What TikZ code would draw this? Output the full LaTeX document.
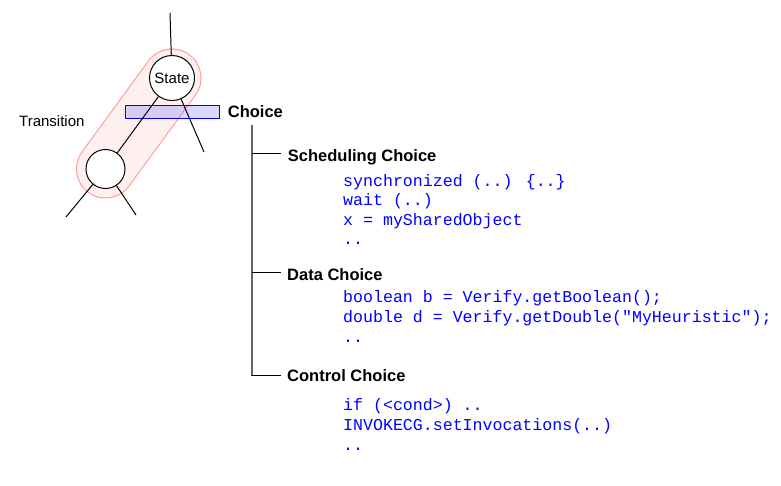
\documentclass[tikz,border=0pt]{standalone}
\usepackage{fontspec}
\setmainfont{Liberation Sans}
\newfontfamily\codefont{Liberation Mono}
\begin{document}
\begin{tikzpicture}[x=1pt,y=-1pt,
  lbl/.style={inner sep=0pt, anchor=base west, font=\fontsize{15}{18}\selectfont},
  head/.style={inner sep=0pt, anchor=base west, font=\fontsize{16.5}{19}\selectfont\bfseries},
  code/.style={inner sep=0pt, anchor=base west, text=blue, font=\fontsize{16.6}{19}\codefont},
  statec/.style={circle, draw=black, fill=white, line width=1pt, inner sep=0pt},
  edge/.style={draw=black, line width=1pt},
  trunk/.style={draw=black!60, line width=2pt},
  branch/.style={draw=black, line width=1pt}]
\useasboundingbox (0,0) rectangle (781,485);
% nodes
\node[statec, minimum size=45pt] (S) at (172,78) {};
\node[statec, minimum size=39pt] (L) at (105.5,169) {};
% pill
\draw[line width=59pt, line cap=round, draw=red!42] (S.center) -- (L.center);
\draw[line width=57pt, line cap=round, draw=red!6] (S.center) -- (L.center);
% choice rectangle
\node[draw=blue, line width=1pt, fill=blue, fill opacity=0.15, draw opacity=1, minimum width=94pt, minimum height=13pt, inner sep=0pt] (R) at (172,111.5) {};
% connectors
\coordinate (top) at (170,13);
\coordinate (rs) at (204,152);
\coordinate (l1) at (66,217);
\coordinate (l2) at (136,215);
\node[statec, minimum size=45pt, font=\fontsize{15}{18}\selectfont] (S) at (172,78) {State};
\node[statec, minimum size=39pt] (L) at (105.5,169) {};
\draw[edge] (top) -- (S);
\draw[edge] (S) -- (rs);
\draw[edge] (S) -- (L);
\draw[edge] (L) -- (l1);
\draw[edge] (L) -- (l2);
% labels
\node[lbl] (trans) at (19,126.7) {Transition};
\node[head] (choice) at (227.7,117.3) {Choice};
% tree
\coordinate (t0) at (252,125);
\coordinate (t1) at (252,153);
\coordinate (t2) at (252,272);
\coordinate (t3) at (252,375);
\coordinate (e1) at (281,153);
\coordinate (e2) at (281,272);
\coordinate (e3) at (281,375);
\draw[trunk] (t0) -- (252,376);
\draw[branch] (t1) -- (e1);
\draw[branch] (t2) -- (e2);
\draw[branch] (251,375) -- (e3);
\node[head] (sc) at (287.7,161.7) {Scheduling Choice};
\node[code] (c11) at (343,186) {synchronized (..) \{..\}};
\node[code] (c12) at (343,205.5) {wait (..)};
\node[code] (c13) at (343,225) {x = mySharedObject};
\node[code] (c14) at (343,244.5) {..};
\node[head] (dc) at (287,280.7) {Data Choice};
\node[code] (c21) at (343,302.3) {boolean b = Verify.getBoolean();};
\node[code] (c22) at (343,322.5) {double d = Verify.getDouble("MyHeuristic");};
\node[code] (c23) at (343,342) {..};
\node[head] (cc) at (287,381.7) {Control Choice};
\node[code] (c31) at (343,410.7) {if (<cond>) ..};
\node[code] (c32) at (343,430.7) {INVOKECG.setInvocations(..)};
\node[code] (c33) at (343,450.3) {..};
\end{tikzpicture}
\end{document}
